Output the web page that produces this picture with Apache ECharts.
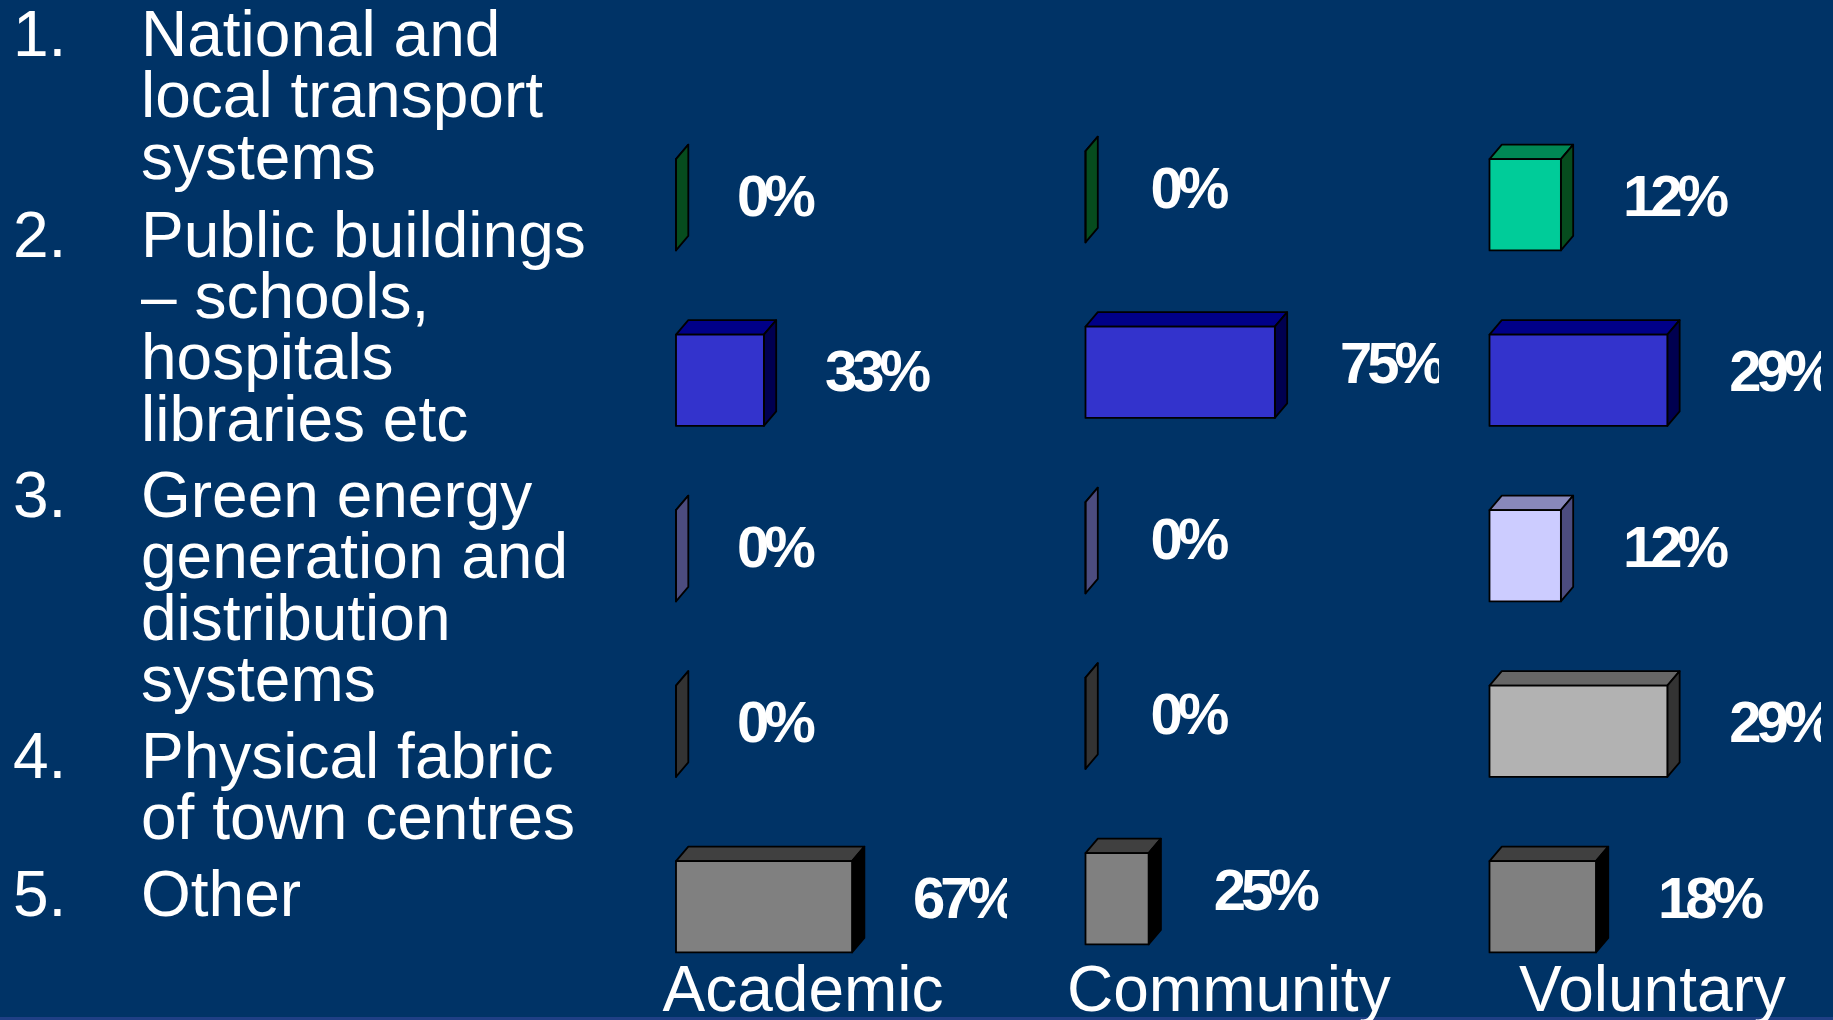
<!DOCTYPE html>
<html><head><meta charset="utf-8">
<style>
html,body{margin:0;padding:0;background:#003366;overflow:hidden}
#c{width:1833px;height:1020px}
#c text[style*="bold"]{letter-spacing:-5px}
</style>
<script src="https://cdn.jsdelivr.net/npm/echarts@6/dist/echarts.min.js"></script>
</head><body><div id="c"></div>
<script>
var categories = ['National and local transport systems','Public buildings','Green energy','Physical fabric','Other'];
var academic = [0,33.3,0,0,66.7];
var community = [0,75,0,0,25];
var voluntary = [11.8,29.4,11.8,29.4,17.6];
var groupNames = ['Academic','Community','Voluntary'];
var frontColors = ['#00CC99','#3333CC','#CCCCFF','#B2B2B2','#808080'];
var topColors   = ['#008855','#000088','#8888BB','#666666','#404040'];
var sideColors  = ['#064C1E','#000050','#4C4C7F','#333333','#000000'];
var listNumbers = ['1.','2.','3.','4.','5.'];
var listLines = [
  ['National and','local transport','systems'],
  ['Public buildings','– schools,','hospitals','libraries etc'],
  ['Green energy','generation and','distribution','systems'],
  ['Physical fabric','of town centres'],
  ['Other']
];
var F='"Liberation Sans",Arial,sans-serif';
var DX=12.3,DY=-14.5,GAP=[61,65,62];
function box(params,api){
  var v=api.value(0),c=api.value(1);
  var p0=api.coord([0,c]),p1=api.coord([v,c]);
  var h=api.size([0,1])[1]*0.52;
  var x0=p0[0],x1=p1[0],t=p0[1]-h/2,b=p0[1]+h/2;
  var st=function(f){return {fill:f,stroke:'#000',lineWidth:1.8,lineJoin:'round'};};
  var cs=params.coordSys,gap=GAP[params.seriesIndex],lx=x1+gap,ly=p0[1]-9.5;
  return {type:'group',children:[
    {type:'polygon',shape:{points:[[x0,t],[x0+DX,t+DY],[x1+DX,t+DY],[x1,t]]},style:st(topColors[c])},
    {type:'polygon',shape:{points:[[x1,t],[x1+DX,t+DY],[x1+DX,b+DY],[x1,b]]},style:st(sideColors[c])},
    {type:'rect',shape:{x:x0,y:t,width:x1-x0,height:b-t},style:st(frontColors[c])},
    {type:'text',x:lx,y:ly,
     style:{text:Math.round(v)+'%',fill:'#fff',font:'bold 58px '+F,textVerticalAlign:'middle',textAlign:'left'},
     clipPath:{type:'rect',shape:{x:cs.x-lx,y:cs.y-ly,width:cs.width,height:cs.height}}}
  ]};
}
var layouts=[{left:676,top:117,width:331,max:125.4},{left:1085.5,top:109,width:353.5,max:140},{left:1489.5,top:117,width:331.5,max:54.8}];
var datas=[academic,community,voluntary];
var grids=[],xs=[],ys=[],series=[];
layouts.forEach(function(l,i){
  grids.push({left:l.left,top:l.top,width:l.width,height:877.5});
  xs.push({type:'value',gridIndex:i,min:0,max:l.max,show:false});
  ys.push({type:'category',gridIndex:i,data:categories,inverse:true,show:false});
  series.push({type:'custom',xAxisIndex:i,yAxisIndex:i,clip:false,renderItem:box,
    encode:{x:0,y:1},data:datas[i].map(function(v,k){return [v,k];})});
});
var g=[{type:'rect',x:0,y:1017,shape:{width:1833,height:3},style:{fill:'#1F3F85'}}];
function txt(s,x,base){g.push({type:'text',x:x,y:base,style:{text:s,fill:'#fff',font:'64px '+F,textVerticalAlign:'bottom',textAlign:'left'}});}
var LH=61.4,BASE=[53,253.5,514,775,913],DESC=13;
listLines.forEach(function(ls,i){
  txt(listNumbers[i],13,BASE[i]+DESC);
  ls.forEach(function(s,j){txt(s,141,BASE[i]+j*LH+DESC);});
});
var catX=[662.5,1067,1519];
groupNames.forEach(function(n,i){txt(n,catX[i],1007.5+DESC);});
var chart=echarts.init(document.getElementById('c'),null,{renderer:'svg'});
chart.setOption({animation:false,backgroundColor:'#003366',grid:grids,xAxis:xs,yAxis:ys,series:series,graphic:g});
</script></body></html>
